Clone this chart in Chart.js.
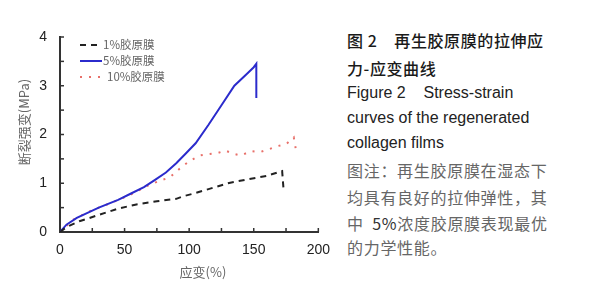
<!DOCTYPE html>
<html>
<head>
<meta charset="utf-8">
<script src="https://cdn.jsdelivr.net/npm/chart.js@4"></script>
<style>
  body { margin: 0; background: #fff; width: 598px; height: 300px; overflow: hidden; position: relative; }
  #wrap { position: absolute; left: 0; top: 0; width: 340px; height: 300px; }
  .cap { position: absolute; left: 347px; white-space: nowrap; font-size: 16px; line-height: 26px; }
  .zh { font-family: "Noto Sans CJK SC", sans-serif; }
  .en { font-family: "Liberation Sans", Arial, sans-serif; color: #222; }
  .ttl { color: #1a1a1a; letter-spacing: 0.6px; font-weight: 500; }
  .note { color: #666; letter-spacing: 0.7px; }
</style>
</head>
<body>
<div id="wrap"><canvas id="stressChart" width="340" height="300"></canvas></div>

<div class="cap zh ttl" style="top:27px">图 2&nbsp;&nbsp;&nbsp;&nbsp;再生胶原膜的拉伸应</div>
<div class="cap zh ttl" style="top:55px">力-应变曲线</div>
<div class="cap en" style="top:80px">Figure 2&nbsp;&nbsp;&nbsp;&nbsp;Stress-strain</div>
<div class="cap en" style="top:105px">curves of the regenerated</div>
<div class="cap en" style="top:130px">collagen films</div>
<div class="cap zh note" style="top:157px">图注：再生胶原膜在湿态下</div>
<div class="cap zh note" style="top:184px">均具有良好的拉伸弹性，其</div>
<div class="cap zh note" style="top:210px">中&nbsp;&nbsp;<span style="color:#333">5%</span>浓度胶原膜表现最优</div>
<div class="cap zh note" style="top:234px">的力学性能。</div>

<script>
const ctx = document.getElementById("stressChart").getContext("2d");

const seriesNames = ["1%胶原膜", "5%胶原膜", "10%胶原膜"];

// 应变(%) / 断裂强度(MPa)
const strain1 = [0, 5, 15, 30, 45, 60, 75, 90, 95, 105, 115, 130, 145, 160, 172, 173];
const stress1 = [0, 0.1, 0.22, 0.35, 0.48, 0.57, 0.63, 0.68, 0.73, 0.8, 0.88, 1.0, 1.08, 1.15, 1.25, 0.9];

const strain5 = [0, 5, 13, 30, 45, 55, 65, 73, 82, 90, 97, 105, 115, 125, 135, 145, 150, 152, 152];
const stress5 = [0, 0.15, 0.29, 0.5, 0.66, 0.79, 0.92, 1.06, 1.22, 1.41, 1.6, 1.82, 2.2, 2.6, 3.0, 3.25, 3.38, 3.45, 2.75];

const strain10 = [0, 10, 25, 40, 55, 68, 78, 85, 94, 100, 108, 115, 122, 128, 135, 140, 148, 155, 162, 168, 175, 181, 183];
const stress10 = [0, 0.25, 0.45, 0.6, 0.77, 0.95, 1.06, 1.12, 1.33, 1.45, 1.57, 1.6, 1.62, 1.67, 1.6, 1.57, 1.66, 1.64, 1.7, 1.76, 1.8, 1.94, 1.63];

const xTicks = [0, 50, 100, 150, 200];
const yTicks = [0, 1, 2, 3, 4];

const toPts = (xs, ys) => xs.map((x, i) => ({ x, y: ys[i] }));

const AXIS = "#333";
const TICK_FONT = { family: '"Liberation Sans", Arial, sans-serif', size: 14 };

// ticks pointing inward, legend inside the plot, axis titles
const extras = {
  id: "extras",
  afterDraw(chart) {
    const c = chart.ctx;
    const a = chart.chartArea;
    const xs = chart.scales.x;
    const ys = chart.scales.y;
    c.save();
    c.strokeStyle = AXIS;
    c.lineWidth = 1.5;
    for (let v = 25; v <= 200; v += 25) {
      const px = xs.getPixelForValue(v);
      c.beginPath();
      c.moveTo(px, a.bottom);
      c.lineTo(px, a.bottom - 4);
      c.stroke();
    }
    for (let v = 0.5; v <= 4; v += 0.5) {
      const py = ys.getPixelForValue(v);
      c.beginPath();
      c.moveTo(a.left, py);
      c.lineTo(a.left + 4, py);
      c.stroke();
    }

    // legend
    c.font = '11.5px "Noto Sans CJK SC", sans-serif';
    c.textBaseline = "middle";
    c.textAlign = "left";
    const rows = [45, 61, 77];
    chart.data.datasets.forEach((ds, i) => {
      const y = rows[i];
      c.strokeStyle = ds.borderColor;
      c.lineWidth = ds.borderWidth;
      c.setLineDash(ds.borderDash || []);
      c.beginPath();
      c.moveTo(80, y);
      c.lineTo(102, y);
      c.stroke();
      c.setLineDash([]);
      c.fillStyle = "#666";
      c.fillText(ds.label, i === 2 ? 107 : 103, y);
    });

    // axis titles
    c.fillStyle = "#666";
    c.font = '13px "Noto Sans CJK SC", sans-serif';
    c.textAlign = "center";
    c.fillText("应变(%)", 203, 272);
    c.translate(24, 122);
    c.rotate(-Math.PI / 2);
    c.fillText("断裂强变(MPa)", 0, 0);
    c.restore();
  },
};

const config = {
  type: "line",
  data: {
    datasets: [
      {
        label: seriesNames[0],
        data: toPts(strain1, stress1),
        borderColor: "#222",
        borderWidth: 2,
        borderDash: [6, 5],
      },
      {
        label: seriesNames[1],
        data: toPts(strain5, stress5),
        borderColor: "#2b2bcc",
        borderWidth: 2,
      },
      {
        label: seriesNames[2],
        data: toPts(strain10, stress10),
        borderColor: "#e8706a",
        borderWidth: 2,
        borderDash: [2, 7],
      },
    ],
  },
  options: {
    responsive: false,
    animation: false,
    elements: { point: { radius: 0 }, line: { tension: 0 } },
    layout: { padding: { left: 0, right: 14, top: 37, bottom: 0 } },
    plugins: { legend: { display: false }, tooltip: { enabled: false } },
    scales: {
      x: {
        type: "linear",
        min: 0,
        max: 200,
        grid: { display: false, drawTicks: false },
        border: { color: AXIS, width: 2 },
        afterBuildTicks: (s) => { s.ticks = xTicks.map((v) => ({ value: v })); },
        afterFit: (s) => { s.height = 68; },
        ticks: { padding: 10, color: "#222", font: TICK_FONT },
      },
      y: {
        min: 0,
        max: 4,
        grid: { display: false, drawTicks: false },
        border: { color: AXIS, width: 2 },
        afterBuildTicks: (s) => { s.ticks = yTicks.map((v) => ({ value: v })); },
        afterFit: (s) => { s.width = 60; },
        ticks: { padding: 13, color: "#222", font: TICK_FONT },
      },
    },
  },
  plugins: [extras],
};

new Chart(ctx, config);
</script>
</body>
</html>
